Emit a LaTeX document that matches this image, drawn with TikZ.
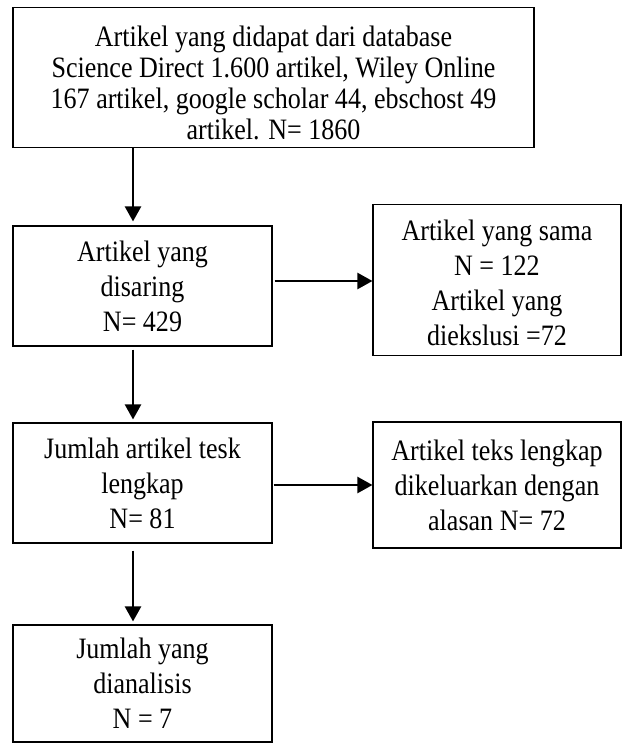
\documentclass[tikz,border=0pt]{standalone}
\usepackage{fontspec}
\setmainfont{Liberation Serif}[FakeStretch=0.88]
\usetikzlibrary{arrows.meta}
\begin{document}
\begin{tikzpicture}[x=1pt,y=-1pt,
  box/.style={draw=black, line width=1.1pt, inner sep=0pt, align=center,
    font=\fontsize{29.6}{35}\selectfont},
  txt/.style={inner sep=0pt, align=center, font=\fontsize{29.6}{35}\selectfont},
  arr/.style={draw=black, line width=2.3pt, -{Triangle[width=16pt,length=15pt]}}]
\useasboundingbox (0,0) rectangle (623,744);
\node[box, minimum width=521pt, minimum height=140pt] (b1) at (273.5,77.5) {};
\node[txt, font=\fontsize{29.6}{31}\selectfont] (t1) at (273.5,83)
  {Artikel yang didapat dari database\\Science Direct 1.600 artikel, Wiley Online\\167 artikel, google scholar 44, ebschost 49\\artikel. N= 1860};
\node[box, minimum width=259pt, minimum height=120pt] (b2) at (142.5,286)
  {Artikel yang\\disaring\\N= 429};
\node[box, minimum width=248pt, minimum height=151pt] (b3) at (497,280) {};
\node[txt] (t3) at (497,283)
  {Artikel yang sama\\N = 122\\Artikel yang\\diekslusi =72};
\node[box, minimum width=259pt, minimum height=120pt] (b4) at (142.5,483)
  {Jumlah artikel tesk\\lengkap\\N= 81};
\node[box, minimum width=248pt, minimum height=126pt] (b5) at (497,485)
  {Artikel teks lengkap\\dikeluarkan dengan\\alasan N= 72};
\node[box, minimum width=259pt, minimum height=117pt] (b6) at (142.5,683.5)
  {Jumlah yang\\dianalisis\\N = 7};
\coordinate (ax) at (133,0);
\coordinate (ay1) at (0,281);
\coordinate (ay2) at (0,485);
\draw[arr, shorten >=4pt] (b1.south -| ax) -- (b2.north -| ax);
\draw[arr, shorten <=3pt, shorten >=3pt] (b2.south -| ax) -- (b4.north -| ax);
\draw[arr, shorten <=7pt, shorten >=3pt] (b4.south -| ax) -- (b6.north -| ax);
\draw[arr, shorten <=2pt] (b2.east |- ay1) -- (b3.west |- ay1);
\draw[arr, shorten <=1pt] (b4.east |- ay2) -- (b5.west |- ay2);
\end{tikzpicture}
\end{document}
